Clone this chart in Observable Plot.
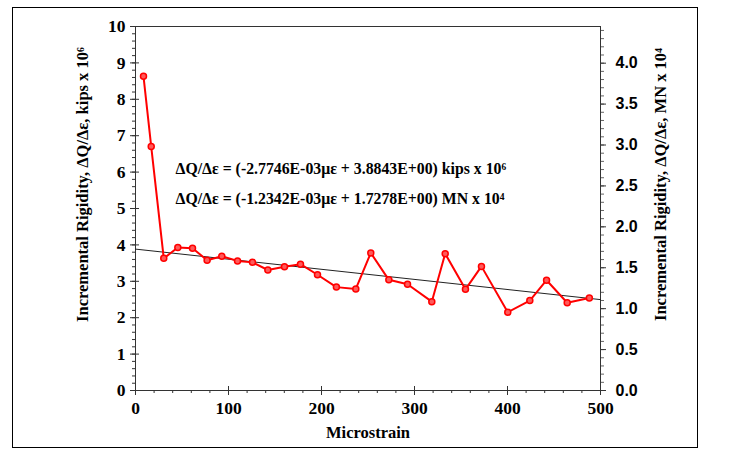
<!DOCTYPE html>
<html>
<head>
<meta charset="utf-8">
<script src="https://cdn.jsdelivr.net/npm/d3@7"></script>
<script src="https://cdn.jsdelivr.net/npm/@observablehq/plot@0.6"></script>
<style>
  html, body { margin: 0; padding: 0; background: #fff; }
  #chart { position: relative; width: 738px; height: 452px; }
  #border { position: absolute; left: 12px; top: 7px; width: 684px; height: 439px; border: 1px solid #000; pointer-events: none; }
</style>
</head>
<body>
<div id="chart"><div id="border"></div></div>
<script>
// Data
const microstrain = [8.6, 16.9, 30.4, 45.5, 61.3, 77, 92.8, 109.7, 125.8, 142.3, 160.2, 177.4, 195.7, 216, 236.9, 253, 272.4, 292.5, 318.6, 333, 354.8, 372, 400.3, 424, 442, 464.2, 488];
const rigidityKips = [8.63, 6.70, 3.63, 3.93, 3.91, 3.58, 3.69, 3.56, 3.52, 3.31, 3.40, 3.47, 3.18, 2.84, 2.79, 3.78, 3.04, 2.92, 2.44, 3.76, 2.78, 3.41, 2.15, 2.47, 3.03, 2.41, 2.54];
const trendX = [0, 500];
const trendY = [3.8843, 2.4970];
const xTicks = [0, 100, 200, 300, 400, 500];
const yTicks = [0, 1, 2, 3, 4, 5, 6, 7, 8, 9, 10];
const mnTicks = [0, 0.5, 1.0, 1.5, 2.0, 2.5, 3.0, 3.5, 4.0];
const kipsToMN = 0.444822; // kips x 10^6 -> MN x 10^4
const equations = [
  "ΔQ/Δε = (-2.7746E-03με + 3.8843E+00) kips x 10⁶",
  "ΔQ/Δε = (-1.2342E-03με + 1.7278E+00) MN x 10⁴"
];

const points = microstrain.map((x, i) => ({x, y: rigidityKips[i]}));
const trend = trendX.map((x, i) => ({x, y: trendY[i]}));
const xMinor = d3.range(0, 501, 20);
const yMinor = d3.range(0, 10.001, 0.2);
const mnMinor = d3.range(0, 44.5, 1).map(v => v / 10 / kipsToMN).filter(v => v <= 10.0001);

const serif = "Liberation Serif, Times New Roman, serif";
const sans = "Liberation Sans, Arial, sans-serif";
const blank = () => "";

const chart = Plot.plot({
  width: 738,
  height: 452,
  marginLeft: 135,
  marginRight: 138,
  marginTop: 26,
  marginBottom: 62,
  style: {fontFamily: serif, background: "transparent", overflow: "visible"},
  x: {domain: [0, 500]},
  y: {domain: [0, 10]},
  marks: [
    Plot.frame({stroke: "#333"}),
    // left axis
    Plot.axisY({ticks: yMinor, tickSize: 3, tickFormat: blank, label: null, stroke: "#333"}),
    Plot.axisY({ticks: yTicks, tickSize: -4, tickFormat: blank, label: null, stroke: "#333"}),
    Plot.axisY({ticks: yTicks, tickSize: 5, tickPadding: 5, label: null, fontSize: 17.5, fontWeight: "bold", fill: "#000", stroke: "#333"}),
    // right axis (MN x 10^4)
    Plot.axisY({anchor: "right", ticks: mnMinor, tickSize: 3, tickFormat: blank, label: null, stroke: "#666"}),
    Plot.axisY({anchor: "right", ticks: mnTicks.map(v => v / kipsToMN), tickSize: 5, tickPadding: 10,
      tickFormat: d => (d * kipsToMN).toFixed(1), label: null, fontSize: 16, fontWeight: "bold",
      fontFamily: sans, fill: "#000", stroke: "#333"}),
    // bottom axis
    Plot.axisX({ticks: xMinor, tickSize: 3, tickFormat: blank, label: null, stroke: "#333"}),
    Plot.axisX({ticks: xTicks, tickSize: -4, tickFormat: blank, label: null, stroke: "#333"}),
    Plot.axisX({ticks: xTicks, tickSize: 5, tickPadding: 6, label: null, fontSize: 17.5, fontWeight: "bold", fill: "#000", stroke: "#333"}),
    // trend line
    Plot.line(trend, {x: "x", y: "y", stroke: "#222", strokeWidth: 1}),
    // data
    Plot.line(points, {x: "x", y: "y", stroke: "#ff0000", strokeWidth: 2}),
    Plot.dot(points, {x: "x", y: "y", r: 3, stroke: "#ff0000", strokeWidth: 1.5, fill: "#ff5a5a"}),
    // equations
    Plot.text([equations[0]], {x: 43, y: 6.10, text: d => d, textAnchor: "start", fontSize: 15.8, fontWeight: "bold", fill: "#000"}),
    Plot.text([equations[1]], {x: 43, y: 5.27, text: d => d, textAnchor: "start", fontSize: 15.8, fontWeight: "bold", fill: "#000"}),
    // axis titles
    Plot.text(["Incremental Rigidity, ΔQ/Δε, kips x 10⁶"], {frameAnchor: "left", dx: -53, dy: -24, rotate: -90, text: d => d, textAnchor: "middle", fontSize: 16.5, fontWeight: "bold", fill: "#000"}),
    Plot.text(["Incremental Rigidity, ΔQ/Δε, MN x 10⁴"], {frameAnchor: "right", dx: 60, dy: -24, rotate: -90, text: d => d, textAnchor: "middle", fontSize: 16.5, fontWeight: "bold", fill: "#000"}),
    Plot.text(["Microstrain"], {frameAnchor: "bottom", dy: 47, text: d => d, textAnchor: "middle", fontSize: 16.5, fontWeight: "bold", fill: "#000"})
  ]
});
chart.style.position = "absolute";
chart.style.left = "0px";
chart.style.top = "0px";
document.getElementById("chart").appendChild(chart);
</script>
</body>
</html>
